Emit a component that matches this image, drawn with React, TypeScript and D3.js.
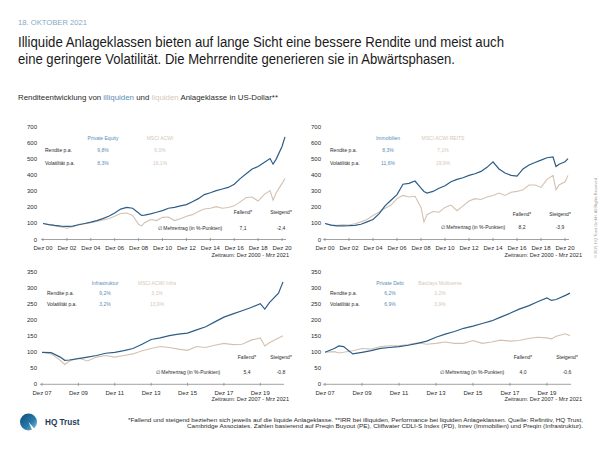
import React from 'react';
import * as d3 from 'd3';

const FONT = "'Liberation Sans', Arial, Helvetica, sans-serif";
const BLUE = '#2c5d88';
const BEIGE = '#d4c1b0';
const BLUE_TXT = '#5b8db6';
const BEIGE_TXT = '#d6c7b8';
const TXT = '#2a2a2a';

// ---------- Data ----------
// Panel 1: Private Equity vs MSCI ACWI
const peDates = ['2000-12','2001-06','2001-12','2002-06','2002-12','2003-06','2003-12','2004-06','2004-12','2005-06','2005-12','2006-06','2006-12','2007-06','2007-12','2008-06','2008-12','2009-03','2009-06','2009-12','2010-06','2010-12','2011-06','2011-12','2012-06','2012-12','2013-06','2013-12','2014-06','2014-12','2015-06','2015-12','2016-06','2016-12','2017-06','2017-12','2018-06','2018-12','2019-06','2019-12','2020-03','2020-06','2020-12','2021-03'];
const peValues = [100,93,88,84,82,84,92,100,108,118,130,145,165,190,200,195,165,150,152,160,170,180,195,200,210,218,235,255,280,292,305,315,325,345,380,410,440,455,480,505,470,500,580,640];
const acwiValues = [100,92,85,78,70,80,95,98,105,112,122,130,145,162,165,150,95,85,105,125,118,138,140,118,130,145,155,175,190,195,205,195,200,210,235,262,265,240,280,305,245,290,350,382];

// Panel 2: Immobilien vs MSCI ACWI REITS
const reDates = peDates;
const immoValues = [100,90,85,85,86,88,95,110,125,160,210,245,280,345,350,365,320,300,290,300,320,335,360,375,385,400,410,425,450,485,440,415,400,395,440,465,480,495,510,515,455,470,485,505];
const reitsValues = [100,90,88,92,90,98,110,125,150,170,195,215,255,275,265,270,200,110,155,175,170,200,215,180,210,240,255,250,265,275,290,275,295,300,310,340,340,325,375,400,310,340,360,400];

// Panel 3: Infrastruktur vs MSCI ACWI Infra
const infDates = ['2007-12','2008-06','2008-12','2009-03','2009-06','2009-12','2010-06','2010-12','2011-06','2011-12','2012-06','2012-12','2013-06','2013-12','2014-06','2014-12','2015-06','2015-12','2016-06','2016-12','2017-06','2017-12','2018-06','2018-12','2019-06','2019-12','2020-03','2020-06','2020-12','2021-03'];
const infraValues = [100,99,85,75,76,80,85,90,97,100,105,112,125,140,145,152,157,160,170,180,195,210,220,230,240,252,235,255,285,320];
const acwiInfraValues = [100,95,75,62,72,82,73,85,90,85,90,95,105,112,118,115,110,106,118,115,122,128,124,125,138,145,120,130,145,152];

// Panel 4: Private Debt vs Barclays Multiverse
const pdDates = ['2007-12','2008-06','2008-09','2008-12','2009-06','2009-12','2010-06','2010-12','2011-06','2011-12','2012-06','2012-12','2013-06','2013-12','2014-06','2014-12','2015-06','2015-12','2016-06','2016-12','2017-06','2017-12','2018-06','2018-12','2019-06','2019-12','2020-03','2020-06','2020-12','2021-03'];
const pdValues = [100,112,120,118,95,100,105,112,115,118,122,128,135,147,157,165,175,182,190,198,210,222,235,245,258,270,262,265,278,285];
const barclaysValues = [100,102,98,100,105,112,110,118,120,120,124,130,125,128,132,128,128,137,128,132,138,135,137,143,147,145,142,150,158,152];

const topTickLabels = ['Dez 00','Dez 02','Dez 04','Dez 06','Dez 08','Dez 10','Dez 12','Dez 14','Dez 16','Dez 18','Dez 20'];
const bottomTickLabels = ['Dez 07','Dez 09','Dez 11','Dez 13','Dez 15','Dez 17','Dez 19'];
const topYTicks = [0,100,200,300,400,500,600,700];
const bottomYTicks = [0,50,100,150,200,250,300,350];

const illiquidNames = ['Private Equity','Immobilien','Infrastruktur','Private Debt'];
const liquidNames = ['MSCI ACWI','MSCI ACWI REITS','MSCI ACWI Infra','Barclays Multiverse'];
const illiquidRendite = ['9,8%','8,3%','9,2%','6,2%'];
const liquidRendite = ['6,0%','7,1%','3,1%','3,2%'];
const illiquidVola = ['8,3%','11,6%','3,2%','6,9%'];
const liquidVola = ['16,1%','19,9%','13,9%','3,9%'];
const fallendValues = ['7,1','8,2','5,4','4,0'];
const steigendValues = ['-2,4','-3,9','-0,8','-0,6'];
const zeitraum = ['Zeitraum: Dez 2000 - Mrz 2021','Zeitraum: Dez 2000 - Mrz 2021','Zeitraum: Dez 2007 - Mrz 2021','Zeitraum: Dez 2007 - Mrz 2021'];

const parse = d3.timeParse('%Y-%m');

type Layout = {
  x0: number; x1: number; y0: number; y1: number; ymax: number; labelX: number;
  start: string; end: string; tickStart: number; tickStep: number; tickLabels: string[]; yTicks: number[];
  tickLabelY: number; zeitY: number; zeitX: number;
  hdrY: number; rowY1: number; rowY2: number; labelLeft: number; col1: number; col2: number;
  fallY: number; mehrY: number; fallX: number; steigX: number; mehrX: number;
};

const layouts: Layout[] = [
  { x0: 43, x1: 285, y0: 239.5, y1: 127.3, ymax: 700, labelX: 37, start: '2000-12', end: '2021-03', tickStart: 2000, tickStep: 2, tickLabels: topTickLabels, yTicks: topYTicks,
    tickLabelY: 250, zeitY: 257, zeitX: 289, hdrY: 140, rowY1: 152, rowY2: 165, labelLeft: 45, col1: 103, col2: 160, fallY: 214, mehrY: 230, fallX: 243, steigX: 281, mehrX: 190 },
  { x0: 325, x1: 568, y0: 239.5, y1: 127.3, ymax: 700, labelX: 321, start: '2000-12', end: '2021-03', tickStart: 2000, tickStep: 2, tickLabels: topTickLabels, yTicks: topYTicks,
    tickLabelY: 250, zeitY: 257, zeitX: 582, hdrY: 140, rowY1: 152, rowY2: 165, labelLeft: 330, col1: 388, col2: 443, fallY: 216, mehrY: 229, fallX: 522, steigX: 560, mehrX: 473 },
  { x0: 42, x1: 283, y0: 384.3, y1: 272.3, ymax: 350, labelX: 37, start: '2007-12', end: '2021-03', tickStart: 2007, tickStep: 2, tickLabels: bottomTickLabels, yTicks: bottomYTicks,
    tickLabelY: 395, zeitY: 401, zeitX: 289, hdrY: 285, rowY1: 295, rowY2: 306, labelLeft: 47, col1: 105, col2: 157, fallY: 359, mehrY: 374, fallX: 247, steigX: 281, mehrX: 188 },
  { x0: 325, x1: 570, y0: 384.3, y1: 272.3, ymax: 350, labelX: 321, start: '2007-12', end: '2021-03', tickStart: 2007, tickStep: 2, tickLabels: bottomTickLabels, yTicks: bottomYTicks,
    tickLabelY: 395, zeitY: 401, zeitX: 582, hdrY: 285, rowY1: 295, rowY2: 306, labelLeft: 330, col1: 390, col2: 440, fallY: 359, mehrY: 374, fallX: 523, steigX: 567, mehrX: 472 },
];

const seriesDates = [peDates, reDates, infDates, pdDates];
const seriesIlliquid = [peValues, immoValues, infraValues, pdValues];
const seriesLiquid = [acwiValues, reitsValues, acwiInfraValues, barclaysValues];

function Panel({ i }: { i: number }) {
  const L = layouts[i];
  const x = d3.scaleTime().domain([parse(L.start)!, parse(L.end)!]).range([L.x0, L.x1]);
  const y = d3.scaleLinear().domain([0, L.ymax]).range([L.y0, L.y1]);
  const dates = seriesDates[i].map((d) => parse(d)!);
  const line = d3.line<number>().x((_, k) => x(dates[k])).y((v) => y(v));
  const ticks = L.tickLabels.map((lab, k) => ({ lab, d: new Date(L.tickStart + k * L.tickStep, 11, 1) }));
  const fs = 5;
  return (
    <g>
      {L.yTicks.map((t) => (
        <text key={t} x={L.labelX} y={y(t) + 2} textAnchor="end" fontSize={6} fill={TXT}>{t}</text>
      ))}
      <line x1={L.x0 - 2} x2={L.x1 + 1} y1={L.y0} y2={L.y0} stroke="#8a8a8a" strokeWidth={0.8} />
      {ticks.map((t) => (
        <g key={t.lab}>
          <line x1={x(t.d)} x2={x(t.d)} y1={L.y0 - 1.5} y2={L.y0 + 1.5} stroke="#8a8a8a" strokeWidth={0.8} />
          <text x={x(t.d)} y={L.tickLabelY} textAnchor="middle" fontSize={6} fill={TXT}>{t.lab}</text>
        </g>
      ))}
      <text x={L.zeitX} y={L.zeitY} textAnchor="end" fontSize={5.6} fill={TXT}>{zeitraum[i]}</text>
      <path d={line(seriesLiquid[i]) || ''} fill="none" stroke={BEIGE} strokeWidth={1.1} />
      <path d={line(seriesIlliquid[i]) || ''} fill="none" stroke={BLUE} strokeWidth={1.2} />
      <text x={L.col1} y={L.hdrY} textAnchor="middle" fontSize={fs} fill={BLUE_TXT}>{illiquidNames[i]}</text>
      <text x={L.col2} y={L.hdrY} textAnchor="middle" fontSize={fs} fill={BEIGE_TXT}>{liquidNames[i]}</text>
      <text x={L.labelLeft} y={L.rowY1} fontSize={fs} fill={TXT}>Rendite p.a.</text>
      <text x={L.col1} y={L.rowY1} textAnchor="middle" fontSize={fs} fill={BLUE_TXT}>{illiquidRendite[i]}</text>
      <text x={L.col2} y={L.rowY1} textAnchor="middle" fontSize={fs} fill={BEIGE_TXT}>{liquidRendite[i]}</text>
      <text x={L.labelLeft} y={L.rowY2} fontSize={fs} fill={TXT}>Volatilität p.a.</text>
      <text x={L.col1} y={L.rowY2} textAnchor="middle" fontSize={fs} fill={BLUE_TXT}>{illiquidVola[i]}</text>
      <text x={L.col2} y={L.rowY2} textAnchor="middle" fontSize={fs} fill={BEIGE_TXT}>{liquidVola[i]}</text>
      <text x={L.fallX} y={L.fallY} textAnchor="middle" fontSize={fs} fill={TXT}>Fallend*</text>
      <text x={L.steigX} y={L.fallY} textAnchor="middle" fontSize={fs} fill={TXT}>Steigend*</text>
      <text x={L.mehrX} y={L.mehrY} textAnchor="middle" fontSize={fs} fill={TXT}>∅ Mehrertrag (in %-Punkten)</text>
      <text x={L.fallX} y={L.mehrY} textAnchor="middle" fontSize={fs} fill={TXT}>{fallendValues[i]}</text>
      <text x={L.steigX} y={L.mehrY} textAnchor="middle" fontSize={fs} fill={TXT}>{steigendValues[i]}</text>
    </g>
  );
}

export default function App() {
  return (
    <svg width={600} height={450} style={{ position: 'absolute', left: 0, top: 0, background: '#fff' }} fontFamily={FONT}>
      <defs>
        <linearGradient id="logoGrad" x1="0" y1="0" x2="1" y2="1">
          <stop offset="0" stopColor="#0e4b78" />
          <stop offset="0.6" stopColor="#2a7cab" />
          <stop offset="1" stopColor="#9cc6de" />
        </linearGradient>
      </defs>
      <rect x={0} y={0} width={600} height={450} fill="#fff" />
      <text x={18} y={24.5} fontSize={7.5} fill="#86a9c4" textLength={69} lengthAdjust="spacingAndGlyphs">18. OKTOBER 2021</text>
      <text x={18} y={47} fontSize={15.5} fill="#1a1a1a" textLength={486} lengthAdjust="spacingAndGlyphs">Illiquide Anlageklassen bieten auf lange Sicht eine bessere Rendite und meist auch</text>
      <text x={18} y={64} fontSize={15.5} fill="#1a1a1a" textLength={437} lengthAdjust="spacingAndGlyphs">eine geringere Volatilität. Die Mehrrendite generieren sie in Abwärtsphasen.</text>
      <text x={18} y={100} fontSize={7.6} fill={TXT} textLength={260} lengthAdjust="spacingAndGlyphs">
        Renditeentwicklung von <tspan fill={BLUE_TXT}>illiquiden</tspan> und <tspan fill={BEIGE_TXT}>liquiden</tspan> Anlageklasse in US-Dollar**
      </text>
      {[0, 1, 2, 3].map((i) => <Panel key={i} i={i} />)}
      <text transform="translate(596.5,258) rotate(-90)" fontSize={4.3} fill="#9a9a9a" textLength={80} lengthAdjust="spacingAndGlyphs">© 2021 HQ Trust GmbH. All Rights Reserved</text>
      <g>
        <circle cx={28.5} cy={422} r={8.5} fill="url(#logoGrad)" />
        <path d="M28.5,422 L36.5,431 L33,432 Z" fill="#fff" />
        <text x={45} y={425} fontSize={8.2} fontWeight="bold" fill="#1d3b58">HQ Trust</text>
      </g>
      <text x={583} y={422} textAnchor="end" fontSize={5} fill={TXT} textLength={455} lengthAdjust="spacingAndGlyphs">*Fallend und steigend beziehen sich jeweils auf die liquide Anlageklasse. **IRR bei illiquiden, Performance bei liquiden Anlageklassen. Quelle: Refinitiv, HQ Trust,</text>
      <text x={583} y={427.5} textAnchor="end" fontSize={5} fill={TXT} textLength={396} lengthAdjust="spacingAndGlyphs">Cambridge Associates. Zahlen basierend auf Preqin Buyout (PE), Cliffwater CDLI-S Index (PD), Inrev (Immobilien) und Preqin (Infrastruktur).</text>
    </svg>
  );
}
